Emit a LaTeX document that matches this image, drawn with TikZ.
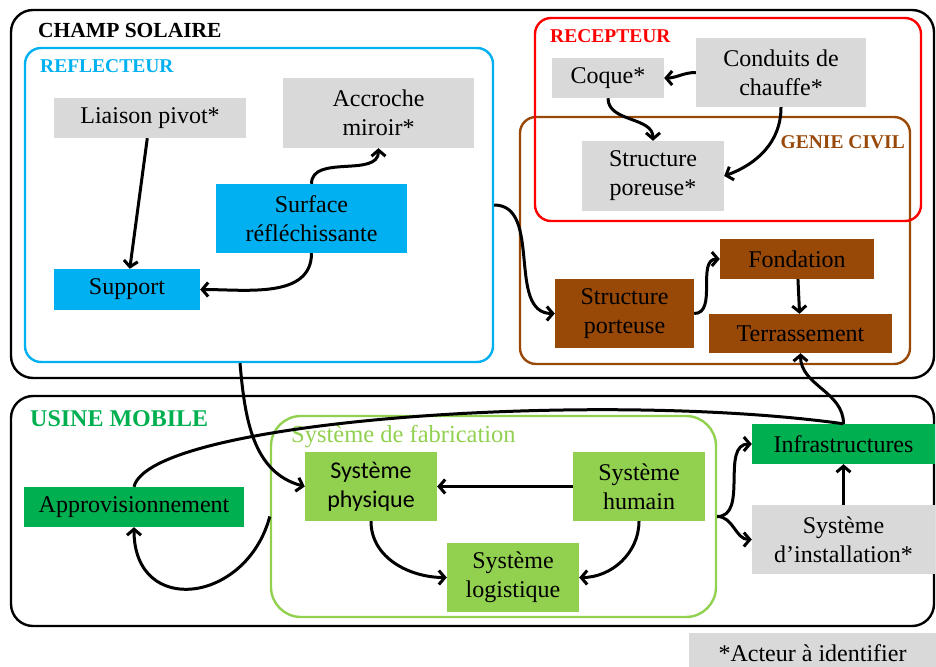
\documentclass[tikz,border=0pt]{standalone}
\usepackage{fontspec}
\setmainfont{Liberation Serif}
\newfontfamily\calibri{Carlito}
\usepackage{tikz}
\usetikzlibrary{arrows.meta, positioning, calc}
\definecolor{refbleu}{HTML}{00B0F0}
\definecolor{recrouge}{HTML}{FF0000}
\definecolor{gcbrun}{HTML}{984807}
\definecolor{usinevert}{HTML}{00B050}
\definecolor{fabvert}{HTML}{92D050}
\definecolor{acteurgris}{HTML}{D9D9D9}

\begin{document}
\begin{tikzpicture}[
    x=1pt, y=-1pt,
    bloc/.style={rectangle, fill=#1, inner sep=0pt, align=center,
                 font=\fontsize{24}{29}\selectfont},
    bloc/.default=acteurgris,
    taille/.style 2 args={minimum width=#1pt, minimum height=#2pt},
    zone/.style={rectangle, draw=#1, line width=2.4pt, rounded corners=16pt,
                 inner sep=0pt},
    titre/.style={anchor=base west, inner sep=0pt, text=#1,
                  font=\bfseries\fontsize{19.5}{20}\selectfont},
    fleche/.style={-{Straight Barb[length=6pt,width=14pt]}, line width=3pt},
    lien/.style={line width=3pt}
]
\useasboundingbox (0,0) rectangle (936,666);

% Zones
\node[zone=black, taille={923}{368}, rounded corners=22pt] at (472.5,194) (champ) {};
\node[zone=refbleu, taille={468}{314}] at (259,205) (reflecteur) {};
\node[zone=gcbrun, taille={390}{247}] at (715,240.5) (genie) {};
\node[zone=recrouge, taille={386}{203}] at (728,119.5) (recepteur) {};
\node[zone=black, taille={923}{230}, rounded corners=22pt] at (472.5,511) (usine) {};
\node[zone=fabvert, taille={445}{201}, rounded corners=30pt] at (493.5,516.5) (fabrication) {};

% Titres
\node[titre=black, font=\bfseries\fontsize{21.5}{22}\selectfont] at (38,38) (t-champ) {CHAMP SOLAIRE};
\node[titre=refbleu] at (40,73) (t-refl) {REFLECTEUR};
\node[titre=recrouge] at (550,43) (t-recep) {RECEPTEUR};
\node[titre=gcbrun, anchor=base east] at (905,148) (t-genie) {GENIE CIVIL};
\node[titre=usinevert, font=\bfseries\fontsize{24}{24}\selectfont] at (30,426) (t-usine) {USINE MOBILE};
\node[titre=fabvert, font=\fontsize{24.5}{24}\selectfont] at (291,442) (t-fab) {Système de fabrication};

% Reflecteur
\node[bloc, taille={192}{40}] at (150,118) (liaison) {Liaison pivot*};
\node[bloc, taille={191}{70}] at (378.5,113) (accroche) {Accroche\\miroir*};
\node[bloc=refbleu, taille={191}{69}] at (311.5,218.5) (surface) {Surface\\réfléchissante};
\node[bloc=refbleu, taille={146}{41}] at (127,289.5) (support) {Support};

% Recepteur
\node[bloc, taille={112}{40}] at (608,78) (coque) {Coque*};
\node[bloc, taille={170}{69}] at (781,72.5) (conduits) {Conduits de\\chauffe*};
\node[bloc, taille={142}{70}] at (653,176) (poreuse) {Structure\\poreuse*};

% Genie civil
\node[bloc=gcbrun, taille={139}{69}] at (624.5,313.5) (porteuse) {Structure\\porteuse};
\node[bloc=gcbrun, taille={154}{40}] at (797,259) (fondation) {Fondation};
\node[bloc=gcbrun, taille={183}{39}] at (800.5,333.5) (terrassement) {Terrassement};

% Usine mobile
\node[bloc=usinevert, taille={220}{40}] at (134,507) (appro) {Approvisionnement};
\node[bloc=fabvert, taille={132}{69}, font=\calibri\fontsize{24}{29}\selectfont] at (371,486.5) (physique) {Système\\physique};
\node[bloc=fabvert, taille={132}{69}] at (639,486.5) (humain) {Système\\humain};
\node[bloc=fabvert, taille={132}{69}] at (513,577.5) (logistique) {Système\\logistique};
\node[bloc=usinevert, taille={183}{40}] at (843.5,444) (infra) {Infrastructures};
\node[bloc, taille={183}{69}] at (843.5,539.5) (install) {Système\\d’installation*};

% Legende
\node[bloc, taille={247}{40}] at (812.5,653) (legende) {*Acteur à identifier};

% Fleches reflecteur
\draw[fleche] (liaison) -- (support);
\draw[fleche] (surface.north) to[out=90, in=-90] (accroche.south);
\draw[fleche] (surface.south) to[out=-90, in=0] (support.east);
\draw[fleche] (reflecteur.east) to[out=0, in=180] (porteuse.west);
\draw[fleche] ($(reflecteur.south)+(-19,0)$) to[out=-85, in=165] (physique.west);

% Fleches recepteur / genie civil
\draw[fleche] (conduits.west) to[out=180, in=0] (coque.east);
\draw[fleche] (coque.south) to[out=-90, in=90] (poreuse.north);
\draw[fleche] (conduits.south) to[out=-90, in=20] (poreuse.east);
\draw[fleche] (porteuse.east) to[out=0, in=180] (fondation.west);
\draw[fleche] (fondation) -- (terrassement);
\draw[fleche] (infra.north) to[out=90, in=-90] (terrassement.south);

% Fleches usine mobile
\draw[lien] (appro.north) .. controls +(16,-67) and +(-243,-34) .. (infra.north);
\draw[fleche] (humain.west) -- (physique.east);
\draw[fleche] (physique.south) to[out=-90, in=180] (logistique.west);
\draw[fleche] (humain.south) to[out=-90, in=0] (logistique.east);
\draw[fleche] (fabrication.west) to[out=-105, in=-90, looseness=1.7] (appro.south);
\draw[fleche] (fabrication.east) to[out=0, in=180] (infra.west);
\draw[fleche] (fabrication.east) to[out=0, in=180] (install.west);
\draw[fleche] (install) -- (infra);

\end{tikzpicture}
\end{document}
